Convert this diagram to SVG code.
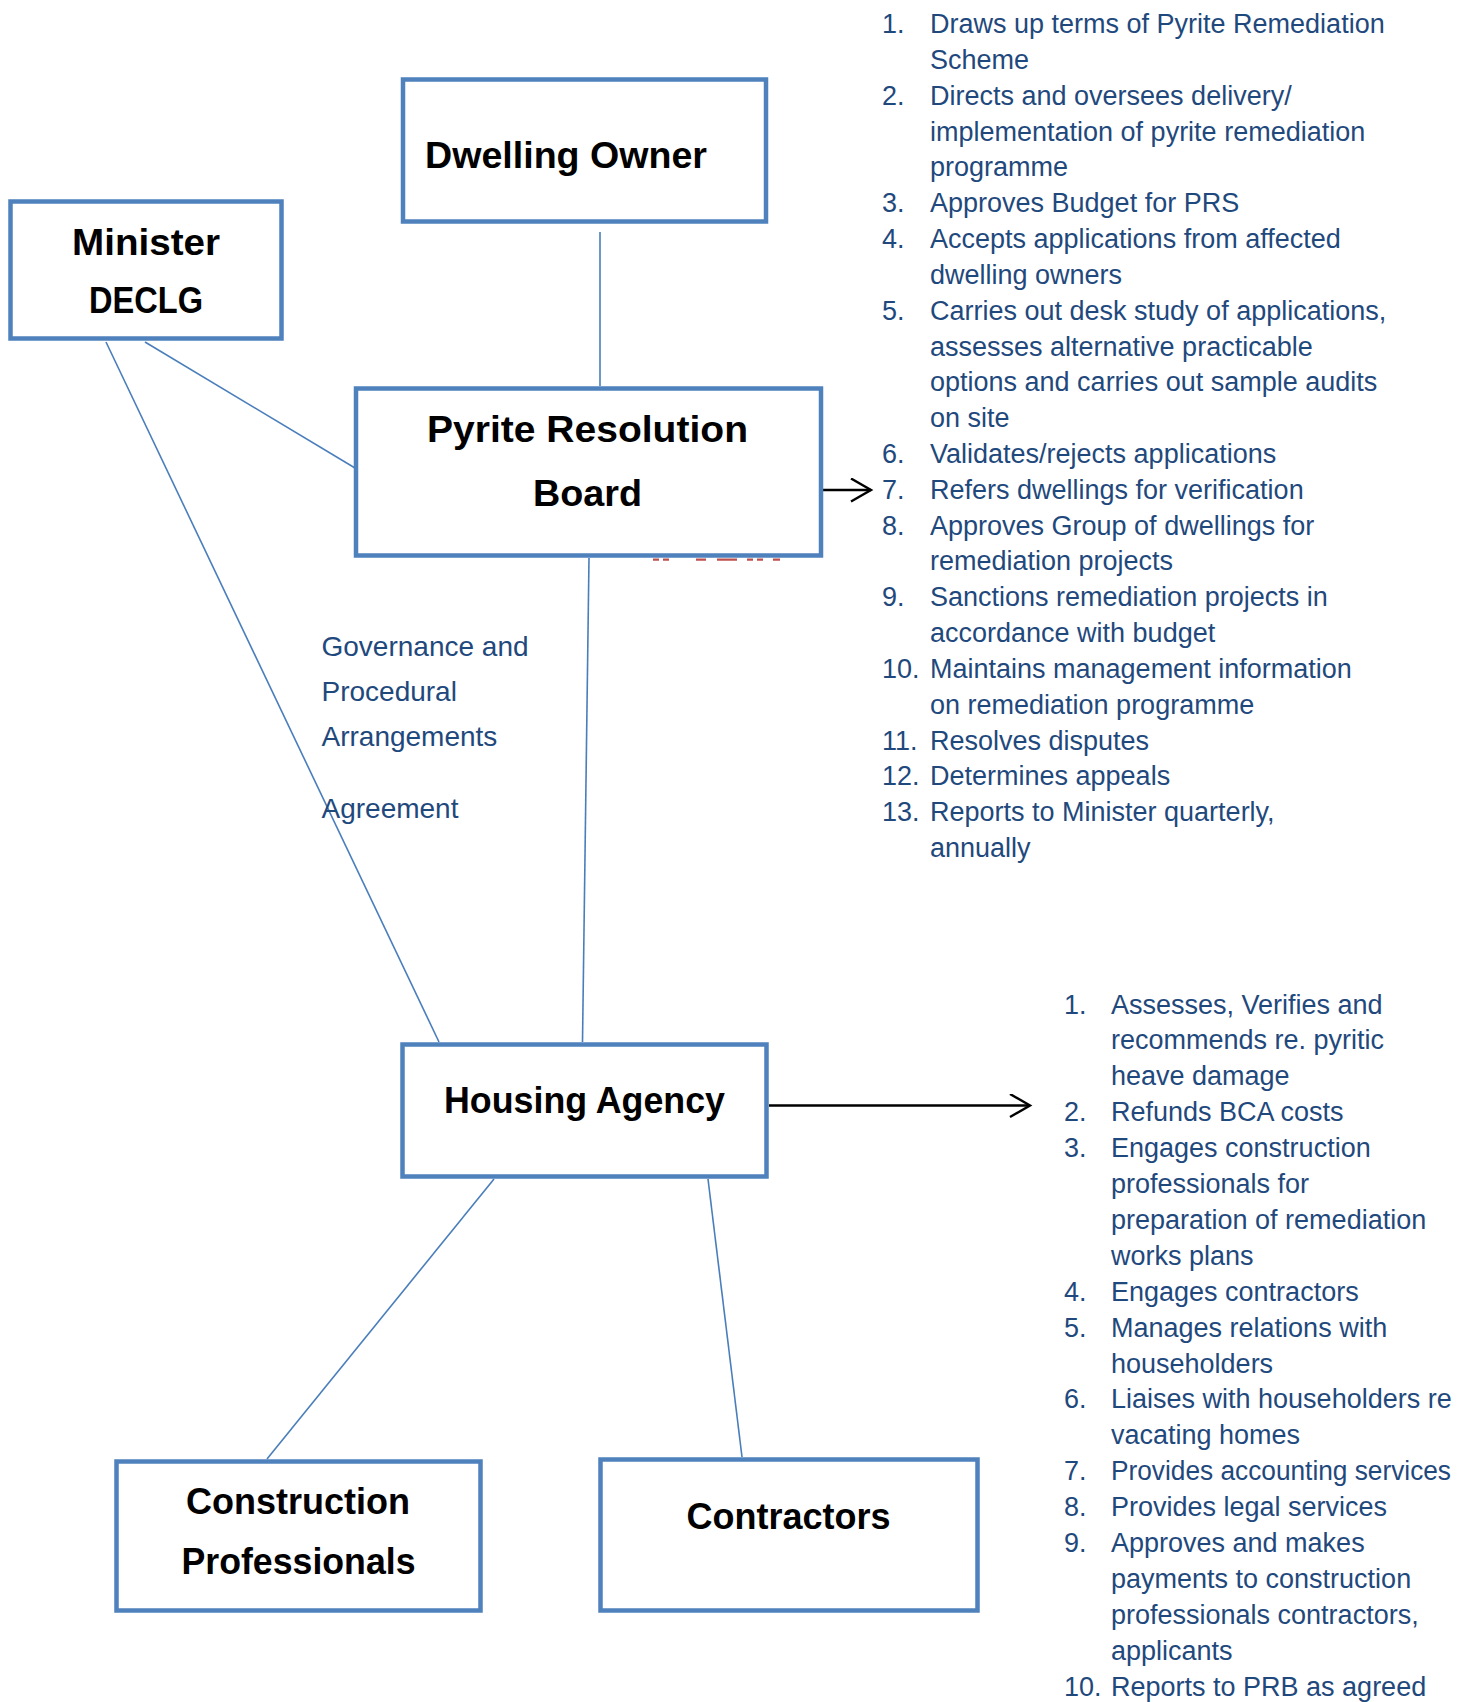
<svg xmlns="http://www.w3.org/2000/svg" width="1468" height="1702" viewBox="0 0 1468 1702">
<defs>
<style>
.box{fill:#FFFFFF;stroke:#4F81BD;stroke-width:4.5}
.lbl{font-family:"Liberation Sans",Arial,sans-serif;font-weight:bold;font-size:37px;fill:#000000}
.con{stroke:#4A7EBB;stroke-width:1.6;fill:none}
.arr{stroke:#000000;stroke-width:2.4;fill:none}
.li{font-family:"Liberation Sans",Arial,sans-serif;font-size:27px;fill:#1F497D}
.gov{font-family:"Liberation Sans",Arial,sans-serif;font-size:28px;fill:#1F497D}
</style>
<marker id="open" markerWidth="24" markerHeight="28" refX="21" refY="12" orient="auto" markerUnits="userSpaceOnUse">
<path d="M1,0.5 L21,12 L1,23.5" fill="none" stroke="#000000" stroke-width="2.4"/>
</marker>
</defs>
<rect width="1468" height="1702" fill="#FFFFFF"/>

<g id="connectors">
<line class="con" x1="600" y1="232" x2="600" y2="386"/>
<line class="con" x1="145" y1="342" x2="355" y2="468"/>
<line class="con" x1="106" y1="342" x2="439" y2="1042"/>
<line class="con" x1="589" y1="558" x2="582.5" y2="1042"/>
<line class="con" x1="494" y1="1179" x2="267" y2="1459"/>
<line class="con" x1="708" y1="1179" x2="742" y2="1457"/>
<line class="arr" x1="823" y1="490" x2="871" y2="490" marker-end="url(#open)"/>
<line class="arr" x1="769" y1="1105.5" x2="1030" y2="1105.5" marker-end="url(#open)"/>
</g>

<g id="minister">
<rect class="box" x="10.5" y="201.5" width="271" height="137"/>
<text class="lbl" x="72" y="255" textLength="148" lengthAdjust="spacingAndGlyphs">Minister</text>
<text class="lbl" x="89" y="313" textLength="114" lengthAdjust="spacingAndGlyphs">DECLG</text>
</g>

<g id="dwelling-owner">
<rect class="box" x="403" y="79.5" width="363" height="142"/>
<text class="lbl" x="425" y="167.5" textLength="282" lengthAdjust="spacingAndGlyphs">Dwelling Owner</text>
</g>

<g id="prb">
<rect class="box" x="356" y="388.5" width="465" height="167"/>
<text class="lbl" x="427" y="442" textLength="321" lengthAdjust="spacingAndGlyphs">Pyrite Resolution</text>
<text class="lbl" x="533" y="505.5" textLength="109" lengthAdjust="spacingAndGlyphs">Board</text>
</g>
<line x1="653" y1="559.6" x2="781" y2="559.6" stroke="#C0504D" stroke-width="2.4" stroke-dasharray="6 4 6 27 10 11 20 10 6 4 6 10 7"/>

<g id="housing-agency">
<rect class="box" x="402.5" y="1044.5" width="364" height="132"/>
<text class="lbl" x="444" y="1113" textLength="281" lengthAdjust="spacingAndGlyphs">Housing Agency</text>
</g>

<g id="construction-professionals">
<rect class="box" x="116.5" y="1461.5" width="364" height="149"/>
<text class="lbl" x="186" y="1514" textLength="224" lengthAdjust="spacingAndGlyphs">Construction</text>
<text class="lbl" x="181.5" y="1574" textLength="234" lengthAdjust="spacingAndGlyphs">Professionals</text>
</g>

<g id="contractors">
<rect class="box" x="600.5" y="1459.5" width="377" height="151"/>
<text class="lbl" x="686.5" y="1529" textLength="204" lengthAdjust="spacingAndGlyphs">Contractors</text>
</g>

<g id="governance-label">
<text class="gov" x="321.5" y="656">Governance and</text>
<text class="gov" x="321.5" y="701">Procedural</text>
<text class="gov" x="321.5" y="745.5">Arrangements</text>
<text class="gov" x="321.5" y="817.5">Agreement</text>
</g>

<g id="prb-list">
<text class="li" x="882" y="33">1.</text><text class="li" x="930" y="33">Draws up terms of Pyrite Remediation</text>
<text class="li" x="930" y="68.8">Scheme</text>
<text class="li" x="882" y="104.7">2.</text><text class="li" x="930" y="104.7">Directs and oversees delivery/</text>
<text class="li" x="930" y="140.5">implementation of pyrite remediation</text>
<text class="li" x="930" y="176.3">programme</text>
<text class="li" x="882" y="212.2">3.</text><text class="li" x="930" y="212.2">Approves Budget for PRS</text>
<text class="li" x="882" y="248">4.</text><text class="li" x="930" y="248">Accepts applications from affected</text>
<text class="li" x="930" y="283.8">dwelling owners</text>
<text class="li" x="882" y="319.6">5.</text><text class="li" x="930" y="319.6">Carries out desk study of applications,</text>
<text class="li" x="930" y="355.5">assesses alternative practicable</text>
<text class="li" x="930" y="391.3">options and carries out sample audits</text>
<text class="li" x="930" y="427.1">on site</text>
<text class="li" x="882" y="463">6.</text><text class="li" x="930" y="463">Validates/rejects applications</text>
<text class="li" x="882" y="498.8">7.</text><text class="li" x="930" y="498.8">Refers dwellings for verification</text>
<text class="li" x="882" y="534.6">8.</text><text class="li" x="930" y="534.6">Approves Group of dwellings for</text>
<text class="li" x="930" y="570.4">remediation projects</text>
<text class="li" x="882" y="606.3">9.</text><text class="li" x="930" y="606.3">Sanctions remediation projects in</text>
<text class="li" x="930" y="642.1">accordance with budget</text>
<text class="li" x="882" y="677.9">10.</text><text class="li" x="930" y="677.9">Maintains management information</text>
<text class="li" x="930" y="713.8">on remediation programme</text>
<text class="li" x="882" y="749.6">11.</text><text class="li" x="930" y="749.6">Resolves disputes</text>
<text class="li" x="882" y="785.4">12.</text><text class="li" x="930" y="785.4">Determines appeals</text>
<text class="li" x="882" y="821.3">13.</text><text class="li" x="930" y="821.3">Reports to Minister quarterly,</text>
<text class="li" x="930" y="857.1">annually</text>
</g>

<g id="ha-list">
<text class="li" x="1064" y="1013.5">1.</text><text class="li" x="1111" y="1013.5">Assesses, Verifies and</text>
<text class="li" x="1111" y="1049.4">recommends re. pyritic</text>
<text class="li" x="1111" y="1085.3">heave damage</text>
<text class="li" x="1064" y="1121.2">2.</text><text class="li" x="1111" y="1121.2">Refunds BCA costs</text>
<text class="li" x="1064" y="1157.1">3.</text><text class="li" x="1111" y="1157.1">Engages construction</text>
<text class="li" x="1111" y="1193">professionals for</text>
<text class="li" x="1111" y="1228.9">preparation of remediation</text>
<text class="li" x="1111" y="1264.8">works plans</text>
<text class="li" x="1064" y="1300.7">4.</text><text class="li" x="1111" y="1300.7">Engages contractors</text>
<text class="li" x="1064" y="1336.6">5.</text><text class="li" x="1111" y="1336.6">Manages relations with</text>
<text class="li" x="1111" y="1372.5">householders</text>
<text class="li" x="1064" y="1408.4">6.</text><text class="li" x="1111" y="1408.4">Liaises with householders re</text>
<text class="li" x="1111" y="1444.3">vacating homes</text>
<text class="li" x="1064" y="1480.2">7.</text><text class="li" x="1111" y="1480.2" textLength="340" lengthAdjust="spacingAndGlyphs">Provides accounting services</text>
<text class="li" x="1064" y="1516.1">8.</text><text class="li" x="1111" y="1516.1">Provides legal services</text>
<text class="li" x="1064" y="1552">9.</text><text class="li" x="1111" y="1552">Approves and makes</text>
<text class="li" x="1111" y="1587.9">payments to construction</text>
<text class="li" x="1111" y="1623.8">professionals contractors,</text>
<text class="li" x="1111" y="1659.7">applicants</text>
<text class="li" x="1064" y="1695.6">10.</text><text class="li" x="1111" y="1695.6">Reports to PRB as agreed</text>
</g>
</svg>
